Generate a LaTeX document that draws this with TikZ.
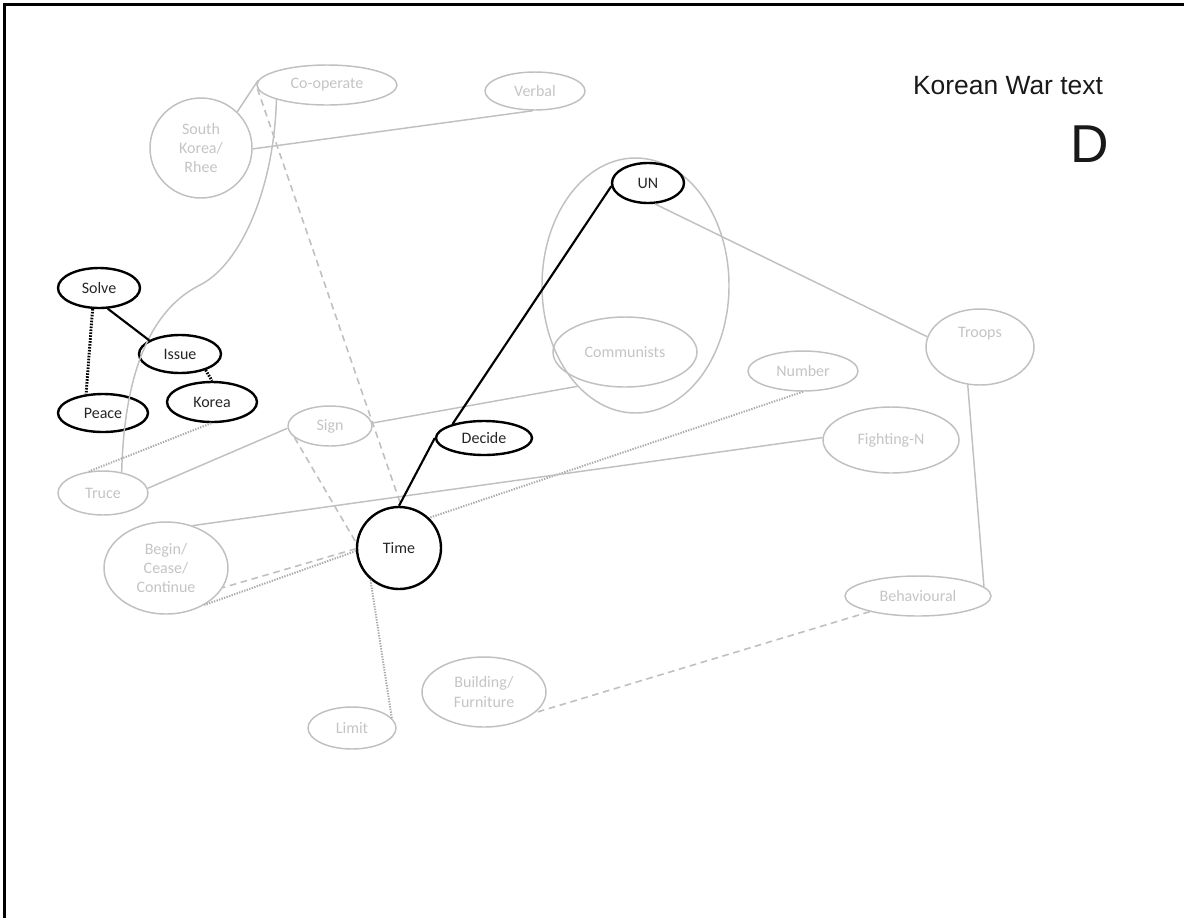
\documentclass[tikz,border=0pt]{standalone}
\usepackage{fontspec}
\setmainfont{Carlito}
\newfontfamily\arialf{Liberation Sans}
\usetikzlibrary{shapes.geometric}
\definecolor{lgline}{RGB}{192,192,192}
\definecolor{lgdot}{RGB}{170,170,170}
\definecolor{lgtext}{RGB}{196,196,196}
\begin{document}
\begin{tikzpicture}[x=0.75pt,y=-0.75pt,
  every node/.style={font=\fontsize{12}{14.5}\selectfont, align=center, inner sep=0pt},
  el/.style 2 args={ellipse, minimum width=#1*1.5pt, minimum height=#2*1.5pt},
  gnode/.style={draw=lgline, line width=1.1pt, text=lgtext},
  bnode/.style={draw=black, line width=1.8pt, text=black!85},
  gline/.style={draw=lgline, line width=1.1pt},
  gdash/.style={gline, line width=1.2pt, dash pattern=on 5pt off 3.5pt},
  gdot/.style={draw=lgdot, line width=1.5pt, dash pattern=on 1pt off 1pt},
  bline/.style={draw=black, line width=1.6pt},
  bdot/.style={draw=black, line width=2.2pt, dash pattern=on 1.2pt off 1pt},
]
\useasboundingbox (0,0) rectangle (1184,918);
\draw[line width=1.6pt] (4.5,918) -- (4.5,4.5) -- (1184,4.5);

% title
\node[font=\arialf\fontsize{19.8}{22}\selectfont, text=black!90] (title) at (1008,86) {Korean War text};
\node[font=\arialf\fontsize{40}{44}\selectfont, text=black!90] (dlabel) at (1090,144) {D};

% nodes
\node[el={70}{20},gnode] (coop) at (327,85) {Co-operate};
\node[el={50}{19},gnode] (verbal) at (535,91) {Verbal};
\node[el={51}{50},gnode] (sk) at (201,148) {South\\Korea/\\Rhee};
\node[el={41}{20},bnode] (solve) at (99,288) {Solve};
\node[el={41}{19},bnode] (issue) at (180,354) {Issue};
\node[el={45}{20},bnode] (korea) at (212,402) {Korea};
\node[el={45}{19},bnode] (peace) at (103,413) {Peace};
\node[el={42}{20},gnode] (sign) at (330,426) {Sign};
\node[el={45}{22},gnode] (truce) at (103,493) {Truce};
\node[el={93.5}{127.5},draw=lgline,line width=1.1pt] (grp) at (635.5,285.5) {};
\node[el={72}{35},gnode] (comm) at (625,352) {Communists};
\node[el={36}{20},bnode] (un) at (648,183) {UN};
\node[el={54}{38},gnode] (troops) at (980,347) {};
\node[text=lgtext] (troopslbl) at (980,334) {Troops};
\node[el={55}{20},gnode] (number) at (803,371) {Number};
\node[el={68}{33},gnode] (fight) at (891,440) {Fighting-N};
\node[el={73}{20},gnode] (behav) at (918,596) {Behavioural};
\node[el={62}{35},gnode] (build) at (484,692) {Building/\\Furniture};
\node[el={44}{21},gnode] (limit) at (352,728) {Limit};
\node[el={42}{41},bnode] (time) at (399,548) {Time};
\node[el={48}{17},bnode] (decide) at (484,438) {Decide};
\node[el={62}{46},gnode] (begin) at (166,568) {Begin/\\Cease/\\Continue};

% grey connectors
\draw[gline] (sk.45) -- (coop.176);
\draw[gline] (sk.-1) -- (verbal.264);
\draw[gdash] (coop.183) -- (time.87);
\draw[gline] (coop.196) .. controls (274,190) and (240,265) .. (200,285)
  .. controls (170,300) and (125,340) .. (truce.48);
\draw[gdot] (korea.268) -- (truce.123);
\draw[gline] (truce.6) -- (sign.183);
\draw[gline] (sign.4) -- (grp.240);
\draw[gdash] (sign.198) -- (time.173);
\draw[gline] (un.-72) -- (troops.169);
\draw[gdot] (number.270) -- (time.45);
\draw[gline] (fight.178) -- (begin.58);
\draw[gdash] (time.181) -- (begin.-19);
\draw[gdot] (time.184) -- (begin.-44);
\draw[gdot] (time.228) -- (limit.14);
\draw[gline] (troops.252) -- (behav.8);
\draw[gdash] (behav.198) -- (build.-22);

% black connectors
\draw[bline] (solve.-67) -- (issue.156);
\draw[bdot] (solve.253) -- (peace.132);
\draw[bdot] (issue.-32) -- (korea.90);
\draw[bline] (un.185) -- (decide.156);
\draw[bline] (decide.180) -- (time.90);
\end{tikzpicture}
\end{document}
